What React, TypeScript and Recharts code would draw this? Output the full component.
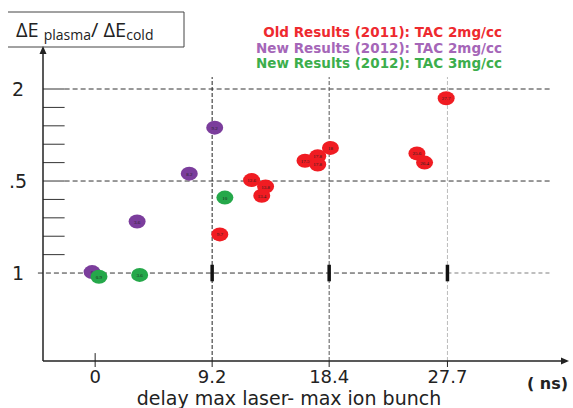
import React from "react";
import {
  ScatterChart,
  Scatter,
  XAxis,
  YAxis,
  ReferenceLine,
} from "recharts";

// delay (ns) and energy-loss ratio
const oldX = [9.8, 12.3, 13.4, 13.1, 16.5, 17.5, 17.5, 18.5, 25.3, 25.9, 27.6];
const oldY = [1.21, 1.505, 1.47, 1.42, 1.61, 1.635, 1.59, 1.68, 1.65, 1.6, 1.95];
const oldLabels = ["9.7", "12.6", "13.8", "13.4", "17.5", "17.8", "17.8", "18", "25.6", "26.4", "27.7"];

const new2X = [-0.24, 3.3, 7.4, 9.4];
const new2Y = [1.005, 1.28, 1.54, 1.79];
const new2Labels = ["0", "3.6", "8.2", "9.2"];

const new3X = [0.3, 3.5, 10.2];
const new3Y = [0.98, 0.99, 1.41];
const new3Labels = ["0.9", "3.6", "10"];

const xTicks = [0, 9.2, 18.4, 27.7];
const yTicks = [1, 1.5, 2];
const yTickText: Record<string, string> = { "1": "1", "1.5": ".5", "2": "2" };
const minorTicks = [1.1, 1.2, 1.3, 1.4, 1.5, 1.6, 1.7, 1.8, 1.9, 2.0];

const legendRows = [
  { text: "Old  Results (2011): TAC 2mg/cc", color: "#ee2a2f" },
  { text: "New Results (2012): TAC 2mg/cc", color: "#a566b8" },
  { text: "New Results (2012): TAC 3mg/cc", color: "#3cae4c" },
];

const X_DOMAIN: [number, number] = [-4.1, 37.1];
const Y_DOMAIN: [number, number] = [0.522, 2.212];

const toRows = (xs: number[], ys: number[], labels: string[]) =>
  xs.map((x, i) => ({ x, y: ys[i], label: labels[i] }));

const oldData = toRows(oldX, oldY, oldLabels);
const new2Data = toRows(new2X, new2Y, new2Labels);
const new3Data = toRows(new3X, new3Y, new3Labels);

const FONT = "'DejaVu Sans', sans-serif";

function dot(fill: string) {
  return (props: any) => {
    const { cx, cy, payload } = props;
    return (
      <g>
        <ellipse cx={cx} cy={cy} rx={8.5} ry={7} fill={fill} />
        <text
          x={cx}
          y={cy + 2}
          textAnchor="middle"
          fontSize={5}
          fontFamily="serif"
          fill="#222"
        >
          {payload.label}
        </text>
      </g>
    );
  };
}

function XTick(props: any) {
  const { x, y, payload } = props;
  return (
    <text x={x} y={y + 14} textAnchor="middle" fontSize={18} fontFamily={FONT} fill="#222">
      {payload.value}
    </text>
  );
}

function YTick(props: any) {
  const { y, payload } = props;
  return (
    <text x={18} y={y + 7} textAnchor="middle" fontSize={19} fontFamily={FONT} fill="#222">
      {yTickText[String(payload.value)]}
    </text>
  );
}

export default function App() {
  return (
    <div style={{ position: "absolute", left: 0, top: 0, width: 573, height: 408, background: "#fff" }}>
      <ScatterChart
        width={573}
        height={408}
        margin={{ top: 50, right: 6, bottom: 17, left: 3 }}
      >
        <XAxis
          type="number"
          dataKey="x"
          domain={X_DOMAIN}
          ticks={xTicks}
          allowDataOverflow
          height={30}
          axisLine={{ stroke: "#222", strokeWidth: 1.5 }}
          tickLine={{ stroke: "#222" }}
          tickSize={6}
          tick={<XTick />}
        />
        <YAxis
          type="number"
          dataKey="y"
          domain={Y_DOMAIN}
          ticks={yTicks}
          allowDataOverflow
          width={40}
          axisLine={{ stroke: "#222", strokeWidth: 1.5 }}
          tickLine={false}
          tick={<YTick />}
        />

        {minorTicks.map((v) => (
          <ReferenceLine
            key={"m" + v}
            segment={[{ x: -4.1, y: v }, { x: -2.4, y: v }]}
            stroke="#333"
            strokeWidth={1}
          />
        ))}

        <ReferenceLine segment={[{ x: -2.4, y: 2 }, { x: 35.8, y: 2 }]} stroke="#333" strokeDasharray="5 3" />
        <ReferenceLine segment={[{ x: -2.4, y: 1.5 }, { x: 35.8, y: 1.5 }]} stroke="#333" strokeDasharray="5 3" />
        <ReferenceLine segment={[{ x: -4.5, y: 1 }, { x: 27.7, y: 1 }]} stroke="#333" strokeDasharray="5 3" ifOverflow="visible" />
        <ReferenceLine segment={[{ x: 27.7, y: 1 }, { x: 35.8, y: 1 }]} stroke="#aaa" strokeDasharray="4 3" strokeWidth={1.5} />

        <ReferenceLine segment={[{ x: 9.2, y: 0.522 }, { x: 9.2, y: 2.065 }]} stroke="#222" strokeDasharray="4 2" />
        <ReferenceLine segment={[{ x: 18.4, y: 0.522 }, { x: 18.4, y: 2.065 }]} stroke="#555" strokeDasharray="4 2" />
        <ReferenceLine segment={[{ x: 27.7, y: 0.522 }, { x: 27.7, y: 2.065 }]} stroke="#bbb" strokeDasharray="4 2" />
        <ReferenceLine segment={[{ x: 0, y: 0.522 }, { x: 0, y: 0.565 }]} stroke="#222" />

        {xTicks.slice(1).map((t) => (
          <ReferenceLine
            key={"b" + t}
            segment={[{ x: t, y: 0.955 }, { x: t, y: 1.045 }]}
            stroke="#111"
            strokeWidth={3.5}
          />
        ))}

        <Scatter data={oldData} shape={dot("#f01c22")} isAnimationActive={false} />
        <Scatter data={new2Data} shape={dot("#7b3d9c")} isAnimationActive={false} />
        <Scatter data={new3Data} shape={dot("#25a84a")} isAnimationActive={false} />
      </ScatterChart>

      <svg
        width={573}
        height={408}
        style={{ position: "absolute", left: 0, top: 0, pointerEvents: "none" }}
      >
        <path d="M8 12 H184 V47 H8" fill="none" stroke="#444" strokeWidth={1} />
        <text x={16} y={37} fontFamily="'Open Sans', sans-serif" fill="#222">
          <tspan fontSize={20}>ΔE</tspan>
          <tspan fontSize={14} dx={5} dy={3}>plasma</tspan>
          <tspan fontSize={20} dy={-3}>/ ΔE</tspan>
          <tspan fontSize={14} dy={3}>cold</tspan>
        </text>

        <polygon points="43,46 39.5,54 46.5,54" fill="#222" />
        <polygon points="569,361 561,357.5 561,364.5" fill="#222" />

        {legendRows.map((r, i) => (
          <text
            key={r.text}
            x={502}
            y={37 + i * 15.5}
            textAnchor="end"
            fontSize={13.5}
            fontWeight="bold"
            fontFamily={FONT}
            fill={r.color}
          >
            {r.text}
          </text>
        ))}

        <text x={568} y={389} textAnchor="end" fontSize={16} fontWeight="bold" fontFamily={FONT} fill="#222">
          ( ns)
        </text>
        <text x={289} y={405} textAnchor="middle" fontSize={19} fontFamily={FONT} fill="#222">
          delay max laser- max ion bunch
        </text>
      </svg>
    </div>
  );
}
